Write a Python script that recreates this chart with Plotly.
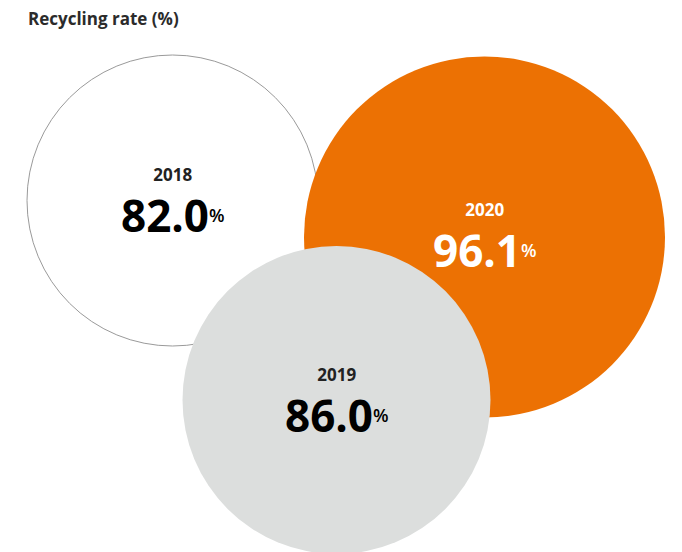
import plotly.graph_objects as go

# ---- data ----
years = ["2018", "2019", "2020"]
rates = [82.0, 86.0, 96.1]
title_text = "Recycling rate (%)"

# ---- layout (pixel positions of bubbles; drawn in this order) ----
order = [0, 2, 1]  # 2018, 2020, 2019 on top
centers = {"2018": (172.5, 200.5), "2019": (336.5, 400.0), "2020": (484.5, 237.0)}
diam = {"2018": 291, "2019": 308, "2020": 361}
fill = {"2018": "#ffffff", "2019": "#dcdedd", "2020": "#ec7103"}
line = {"2018": ("#9a9a9a", 1), "2019": ("#dcdedd", 0), "2020": ("#ec7103", 0)}
txtcol = {"2018": ("#222222", "#000000"), "2019": ("#222222", "#000000"), "2020": ("#ffffff", "#ffffff")}
label_off = {"2018": 3, "2019": 4, "2020": 2}

W, H = 682, 552
PAGE_MARGIN = 8  # browser default body margin
FONT = "Open Sans"

fig = go.Figure()
annotations = []
for i in order:
    y = years[i]
    cx, cy = centers[y]
    fig.add_trace(go.Scatter(
        x=[cx], y=[cy], mode="markers",
        marker=dict(size=diam[y], color=fill[y], opacity=1,
                    line=dict(color=line[y][0], width=line[y][1])),
        hoverinfo="skip", showlegend=False))
    label = (
        "<span style='font-size:17px;font-weight:bold;fill:%s'>%s</span><br>"
        "<span style='font-size:44px;font-weight:bold'>%.1f</span>"
        "<span style='font-size:18px;font-weight:600;baseline-shift:10px'>%%</span>"
        % (txtcol[y][0], y, rates[i]))
    annotations.append(dict(
        x=cx, y=cy + label_off[y], xref="x", yref="y", showarrow=False,
        text=label, xanchor="center", yanchor="middle", align="center",
        font=dict(family=FONT, size=39, color=txtcol[y][1])))

annotations.append(dict(
    x=26, y=18, xref="x", yref="y", showarrow=False, xanchor="left", yanchor="middle",
    text="<b>" + title_text + "</b>", font=dict(family=FONT, size=17, color="#2b2b2b")))

fig.update_layout(
    width=W - PAGE_MARGIN, height=H - PAGE_MARGIN, margin=dict(l=0, r=0, t=0, b=0),
    paper_bgcolor="white", plot_bgcolor="white",
    xaxis=dict(range=[PAGE_MARGIN, W], visible=False, fixedrange=True),
    yaxis=dict(range=[H, PAGE_MARGIN], visible=False, fixedrange=True),
    annotations=annotations)

fig.write_html("out.html", config={"displayModeBar": False})
